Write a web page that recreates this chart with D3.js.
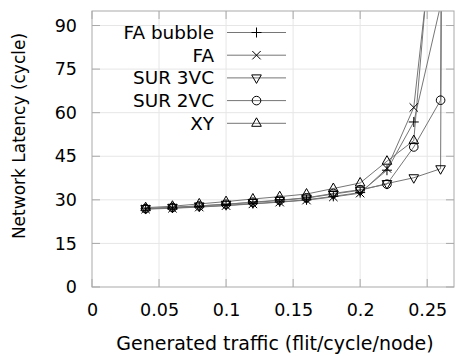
<!DOCTYPE html>
<html>
<head>
<meta charset="utf-8">
<script src="https://cdn.jsdelivr.net/npm/d3@7"></script>
<style>
  html, body { margin: 0; padding: 0; background: #fff; }
  svg { display: block; font-family: "DejaVu Sans", sans-serif; }
</style>
</head>
<body>
<svg id="chart" width="456" height="356"></svg>
<script>
// Injection rate (flit/cycle/node)
const traffic = [0.04, 0.06, 0.08, 0.10, 0.12, 0.14, 0.16, 0.18, 0.20, 0.22, 0.24, 0.26, 0.28];

// Average network latency in cycles per routing scheme (null = no sample)
const faBubble = [26.9, 27.2, 27.6, 28.1, 28.7, 29.3, 30.0, 31.2, 32.5, 40.2, 56.8, 97, null];
const fa       = [26.8, 27.1, 27.5, 28.0, 28.6, 29.2, 29.9, 31.0, 32.3, 40.8, 61.8, 145, null];
const sur3vc   = [27.0, 27.4, 27.9, 28.5, 29.1, 29.8, 30.6, 32.0, 33.3, 35.6, 37.6, 40.7, 2000];
const sur2vc   = [27.0, 27.4, 27.9, 28.5, 29.2, 29.9, 30.7, 32.2, 33.5, 35.4, 48.2, 64.3, 2000];
const xy       = [27.3, 27.8, 28.6, 29.4, 30.3, 31.1, 32.0, 33.9, 35.8, 43.3, 50.4, 160, null];

const seriesNames = ["FA bubble", "FA", "SUR 3VC", "SUR 2VC", "XY"];
const seriesValues = [faBubble, fa, sur3vc, sur2vc, xy];
const seriesMarkers = ["plus", "cross", "triDown", "circle", "triUp"];

const xTicks = [0, 0.05, 0.1, 0.15, 0.2, 0.25];
const yTicks = [0, 15, 30, 45, 60, 75, 90];

const svg = d3.select("#chart");
const m = { left: 92, right: 454, top: 11, bottom: 287 };

const x = d3.scaleLinear().domain([0, 0.27]).range([m.left, m.right]);
const y = d3.scaleLinear().domain([0, 95]).range([m.bottom, m.top]);

const gridColor = "#e6e6e6";
const borderColor = "#a9a9a9";
const lineColor = "#767676";

// grid
const grid = svg.append("g");
grid.selectAll(".gx").data(xTicks.slice(1)).join("line")
  .attr("x1", d => x(d)).attr("x2", d => x(d))
  .attr("y1", m.top).attr("y2", m.bottom)
  .attr("stroke", gridColor).attr("stroke-width", 1);
grid.selectAll(".gy").data(yTicks.slice(1)).join("line")
  .attr("x1", m.left).attr("x2", m.right)
  .attr("y1", d => y(d)).attr("y2", d => y(d))
  .attr("stroke", gridColor).attr("stroke-width", 1);

// axes: labels only, ticks drawn inward below
const xAxis = d3.axisBottom(x).tickValues(xTicks).tickSize(0).tickPadding(17)
  .tickFormat(d => d3.format("")(d));
const yAxis = d3.axisLeft(y).tickValues(yTicks).tickSize(0).tickPadding(15);

const gx = svg.append("g").attr("transform", `translate(0,${m.bottom})`).call(xAxis);
const gy = svg.append("g").attr("transform", `translate(${m.left},0)`).call(yAxis);
[gx, gy].forEach(g => {
  g.select(".domain").remove();
  g.selectAll("text").attr("font-size", "17.5px").attr("fill", "#000")
    .attr("font-family", "DejaVu Sans, sans-serif");
});

// inward ticks on all four sides
const tk = svg.append("g").attr("stroke", borderColor).attr("stroke-width", 1);
xTicks.forEach(t => {
  tk.append("line").attr("x1", x(t)).attr("x2", x(t)).attr("y1", m.bottom).attr("y2", m.bottom - 8);
  tk.append("line").attr("x1", x(t)).attr("x2", x(t)).attr("y1", m.top).attr("y2", m.top + 8);
});
yTicks.forEach(t => {
  tk.append("line").attr("x1", m.left).attr("x2", m.left + 8).attr("y1", y(t)).attr("y2", y(t));
  tk.append("line").attr("x1", m.right).attr("x2", m.right - 8).attr("y1", y(t)).attr("y2", y(t));
});

// axis titles
svg.append("text")
  .attr("transform", `translate(19,136) rotate(-90)`)
  .attr("text-anchor", "middle").attr("dominant-baseline", "central")
  .attr("font-size", "17px").text("Network Latency (cycle)");
svg.append("text")
  .attr("x", 275).attr("y", 343)
  .attr("text-anchor", "middle").attr("dominant-baseline", "central")
  .attr("font-size", "19px").text("Generated traffic (flit/cycle/node)");

// marker shapes
function marker(g, type, cx, cy) {
  const s = 5;
  let el;
  if (type === "plus") {
    el = g.append("path").attr("d", `M${cx - s},${cy}H${cx + s}M${cx},${cy - s}V${cy + s}`);
  } else if (type === "cross") {
    const c = 4.2;
    el = g.append("path").attr("d", `M${cx - c},${cy - c}L${cx + c},${cy + c}M${cx - c},${cy + c}L${cx + c},${cy - c}`);
  } else if (type === "circle") {
    el = g.append("circle").attr("cx", cx).attr("cy", cy).attr("r", 4.3);
  } else if (type === "triUp") {
    el = g.append("path").attr("d", `M${cx},${cy - 5.5}L${cx + 4.8},${cy + 3}L${cx - 4.8},${cy + 3}Z`);
  } else if (type === "triDown") {
    el = g.append("path").attr("d", `M${cx},${cy + 5.5}L${cx + 4.8},${cy - 3}L${cx - 4.8},${cy - 3}Z`);
  }
  el.attr("stroke", "#000").attr("stroke-width", 1).attr("fill", "none");
}

// clip region for data
svg.append("clipPath").attr("id", "plotClip").append("rect")
  .attr("x", m.left).attr("y", m.top)
  .attr("width", m.right - m.left).attr("height", m.bottom - m.top);

const plot = svg.append("g").attr("clip-path", "url(#plotClip)");
const line = d3.line()
  .defined(d => d[1] !== null)
  .x(d => x(d[0])).y(d => y(d[1]));

seriesValues.forEach((vals, i) => {
  const pts = traffic.map((t, j) => [t, vals[j]]);
  plot.append("path").datum(pts)
    .attr("d", line).attr("fill", "none")
    .attr("stroke", lineColor).attr("stroke-width", 1);
});
seriesValues.forEach((vals, i) => {
  const mg = plot.append("g");
  traffic.forEach((t, j) => {
    if (vals[j] !== null && vals[j] <= 95) marker(mg, seriesMarkers[i], x(t), y(vals[j]));
  });
});

// border
svg.append("rect")
  .attr("x", m.left).attr("y", m.top)
  .attr("width", m.right - m.left).attr("height", m.bottom - m.top)
  .attr("fill", "none").attr("stroke", borderColor).attr("stroke-width", 1);

// legend
const lg = svg.append("g");
const legY0 = 32.5, legDy = 22.7;
seriesNames.forEach((name, i) => {
  const yy = legY0 + i * legDy;
  lg.append("text").attr("x", 214).attr("y", yy)
    .attr("text-anchor", "end").attr("dominant-baseline", "central")
    .attr("font-size", "18.4px").text(name);
  lg.append("line").attr("x1", 227).attr("x2", 286).attr("y1", yy).attr("y2", yy)
    .attr("stroke", lineColor).attr("stroke-width", 1);
  marker(lg, seriesMarkers[i], 256.5, yy);
});
</script>
</body>
</html>
